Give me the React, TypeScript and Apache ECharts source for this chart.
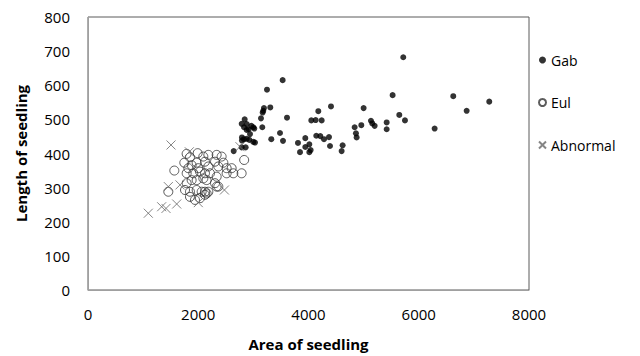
import React, { useEffect, useRef } from "react";
import * as echarts from "echarts";

const xTicks = [0, 2000, 4000, 6000, 8000];
const yTicks = [0, 100, 200, 300, 400, 500, 600, 700, 800];

const gab: number[][] = [
  [5719, 682], [3531, 615], [3247, 587], [5526, 571], [3307, 535], [3192, 533], [3180, 525], [3168, 520],
  [4408, 538], [4178, 524], [5000, 533], [5647, 513], [5750, 497], [6288, 473], [3610, 505], [3138, 503],
  [4051, 497], [4130, 498], [4239, 497], [5133, 496], [5157, 488], [5200, 481], [5418, 491], [5418, 471],
  [4837, 477], [4958, 483], [4861, 459], [4873, 447], [3162, 477], [2963, 481], [3017, 473], [3483, 460],
  [3325, 442], [3537, 437], [2939, 457], [3029, 432], [3809, 431], [3942, 445], [4015, 427], [3942, 419],
  [4039, 410], [3846, 404], [4015, 404], [4141, 452], [4214, 451], [4281, 442], [4372, 448], [4390, 422],
  [4619, 424], [4601, 407], [6626, 568], [7279, 552], [6869, 525], [2842, 500], [2788, 487], [2879, 486],
  [2999, 477], [2830, 477], [2879, 469], [2915, 471], [2793, 447], [2830, 442], [2793, 438], [2879, 443],
  [2926, 440], [2999, 434], [2788, 418], [2860, 418], [2643, 407],
];

const eul: number[][] = [
  [1789, 399], [1850, 389], [1747, 373], [1989, 401], [2092, 391], [2183, 396], [2334, 396], [2424, 391],
  [2304, 376], [2455, 373], [1971, 373], [2122, 376], [1880, 366], [1820, 357], [2001, 357], [2183, 362],
  [2364, 362], [2515, 357], [2606, 357], [2636, 342], [2787, 342], [1790, 342], [1910, 342], [2031, 347],
  [2122, 342], [2213, 342], [2334, 332], [1880, 322], [1971, 322], [2092, 327], [2152, 322], [1790, 313],
  [2304, 313], [2364, 303], [1457, 288], [1760, 293], [1850, 288], [1971, 293], [2062, 288], [2122, 288],
  [2183, 288], [1850, 273], [1941, 264], [2031, 269], [2122, 279], [2152, 283], [2334, 303], [2833, 381],
  [1566, 350], [2515, 342],
];

const abnormal: number[][] = [
  [1094, 225], [1336, 244], [1415, 239], [1609, 252], [1457, 303], [1669, 308], [2475, 293], [2001, 256],
  [1506, 425], [1838, 405], [2757, 420],
];

const FONT = "Open Sans";
const crossPath = "path://M0,0L10,10M10,0L0,10";

export default function App() {
  const ref = useRef<HTMLDivElement>(null);
  useEffect(() => {
    if (!ref.current) return;
    const chart = echarts.init(ref.current, undefined, { renderer: "svg" });
    chart.setOption({
      animation: false,
      backgroundColor: "#ffffff",
      textStyle: { fontFamily: FONT },
      grid: {
        left: 88, top: 17, right: 111, bottom: 66,
        show: true, borderColor: "#5a5a5a", borderWidth: 1, backgroundColor: "transparent",
      },
      legend: {
        orient: "vertical",
        left: 533,
        top: 48,
        itemGap: 28.5,
        itemWidth: 7,
        itemHeight: 7,
        textStyle: { fontFamily: FONT, fontSize: 14, color: "#000" },
        data: ["Gab", "Eul", "Abnormal"],
      },
      xAxis: {
        type: "value",
        min: xTicks[0],
        max: xTicks[xTicks.length - 1],
        interval: 2000,
        splitLine: { show: false },
        axisTick: { show: false },
        axisLine: { show: true, lineStyle: { color: "#a0a0a0" } },
        axisLabel: { fontFamily: FONT, fontSize: 15, color: "#000", margin: 16, formatter: (v: number) => String(v) },
        name: "Area of seedling",
        nameLocation: "middle",
        nameGap: 46,
        nameTextStyle: { fontFamily: FONT, fontSize: 15, fontWeight: "bold", color: "#000" },
      },
      yAxis: {
        type: "value",
        min: yTicks[0],
        max: yTicks[yTicks.length - 1],
        interval: 100,
        splitLine: { show: false },
        axisTick: { show: false },
        axisLine: { show: true, lineStyle: { color: "#a0a0a0" } },
        axisLabel: { fontFamily: FONT, fontSize: 15, color: "#000", margin: 18, formatter: (v: number) => String(v) },
        name: "Length of seedling",
        nameLocation: "middle",
        nameGap: 60,
        nameTextStyle: { fontFamily: FONT, fontSize: 15, fontWeight: "bold", color: "#000" },
      },
      series: [
        {
          name: "Gab",
          type: "scatter",
          data: gab,
          symbol: "circle",
          symbolSize: 6,
          itemStyle: { color: "#000" },
        },
        {
          name: "Eul",
          type: "scatter",
          data: eul,
          symbol: "circle",
          symbolSize: 9,
          itemStyle: { color: "rgba(255,255,255,0)", borderColor: "#333", borderWidth: 1 },
        },
        {
          name: "Abnormal",
          type: "scatter",
          data: abnormal,
          symbol: crossPath,
          symbolSize: 9,
          itemStyle: { color: "rgba(0,0,0,0)", borderColor: "#666", borderWidth: 1 },
        },
      ],
    });
    return () => chart.dispose();
  }, []);
  return <div ref={ref} style={{ position: "fixed", left: 0, top: 0, width: 640, height: 356 }} />;
}
